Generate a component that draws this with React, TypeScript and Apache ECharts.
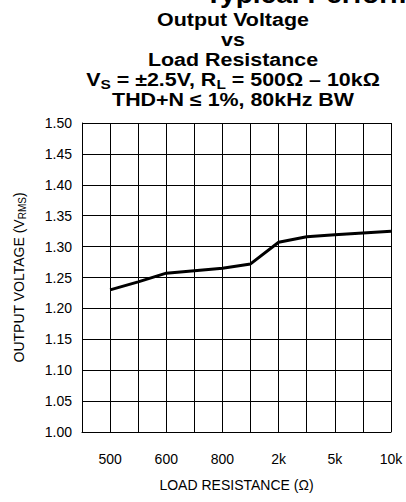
import React, { useEffect, useRef } from "react";
import * as echarts from "echarts";

const categories = ["", "500", "", "600", "", "800", "", "2k", "", "5k", "", "10k"];
const outputVoltage: (number | null)[] = [null, 1.230, 1.243, 1.257, 1.261, 1.265, 1.272, 1.307, 1.316, 1.319, 1.322, 1.325];
const yMin = 1.0;
const yMax = 1.5;
const yStep = 0.05;

const FONT = "'Liberation Sans', Arial, Helvetica, sans-serif";

export default function App() {
  const ref = useRef<HTMLDivElement>(null);
  useEffect(() => {
    if (!ref.current) return;
    const chart = echarts.init(ref.current, undefined, { renderer: "svg" });
    const titleRich = {
      b: { fontSize: 18, fontWeight: "bold", fontFamily: FONT, color: "#000", lineHeight: 20 },
      s: { fontSize: 13, fontWeight: "bold", fontFamily: FONT, color: "#000", lineHeight: 18, padding: [8, 0, 0, 0] },
    };
    chart.setOption({
      animation: false,
      backgroundColor: "#fff",
      textStyle: { fontFamily: FONT },
      graphic: [
        {
          type: "text",
          x: 205,
          y: -6,
          scaleX: 1.08,
          style: {
            text: "Typical Performance Characteristics",
            fontSize: 26,
            fontWeight: "bold",
            fontFamily: FONT,
            fill: "#000",
            align: "left",
            verticalAlign: "middle",
          },
        },
        {
          type: "text",
          x: 233,
          y: 10,
          scaleX: 1.19,
          style: {
            text:
              "{b|Output Voltage}\n{b|vs}\n{b|Load Resistance}\n{b|V}{s|S}{b| = ±2.5V, R}{s|L}{b| = 500Ω – 10kΩ}\n{b|THD+N ≤ 1%, 80kHz BW}",
            align: "center",
            verticalAlign: "top",
            fill: "#000",
            rich: titleRich,
          },
        },
      ],
      grid: { left: 82, right: 15, top: 123, bottom: 70, containLabel: false },
      xAxis: {
        type: "category",
        data: categories,
        boundaryGap: false,
        axisLine: { show: true, lineStyle: { color: "#000", width: 1 } },
        axisTick: { show: false },
        axisLabel: { interval: 0, margin: 20, fontSize: 14, color: "#000", fontFamily: FONT },
        splitLine: { show: true, interval: 0, lineStyle: { color: "#000", width: 1 } },
        name: "{a|LOAD RESISTANCE (Ω)}",
        nameLocation: "middle",
        nameGap: 46,
        nameTextStyle: {
          rich: { a: { fontSize: 14, color: "#000", fontFamily: FONT } },
        },
      },
      yAxis: {
        type: "value",
        min: yMin,
        max: yMax,
        interval: yStep,
        axisLine: { show: true, lineStyle: { color: "#000", width: 1 } },
        axisTick: { show: false },
        axisLabel: {
          margin: 10,
          fontSize: 14,
          color: "#000",
          fontFamily: FONT,
          formatter: (v: number) => v.toFixed(2),
        },
        splitLine: { show: true, lineStyle: { color: "#000", width: 1 } },
        name: "{a|OUTPUT VOLTAGE (V}{s|RMS}{a|)}",
        nameLocation: "middle",
        nameGap: 54,
        nameRotate: 90,
        nameTextStyle: {
          rich: {
            a: { fontSize: 14, color: "#000", fontFamily: FONT, lineHeight: 18 },
            s: { fontSize: 10, color: "#000", fontFamily: FONT, lineHeight: 18, padding: [7, 0, 0, 0] },
          },
        },
      },
      series: [
        {
          type: "line",
          data: outputVoltage,
          showSymbol: false,
          symbol: "none",
          connectNulls: false,
          lineStyle: { color: "#000", width: 3 },
        },
      ],
    });
    return () => chart.dispose();
  }, []);
  return (
    <div
      ref={ref}
      style={{ position: "fixed", left: 0, top: 0, width: 406, height: 502, background: "#fff" }}
    />
  );
}
